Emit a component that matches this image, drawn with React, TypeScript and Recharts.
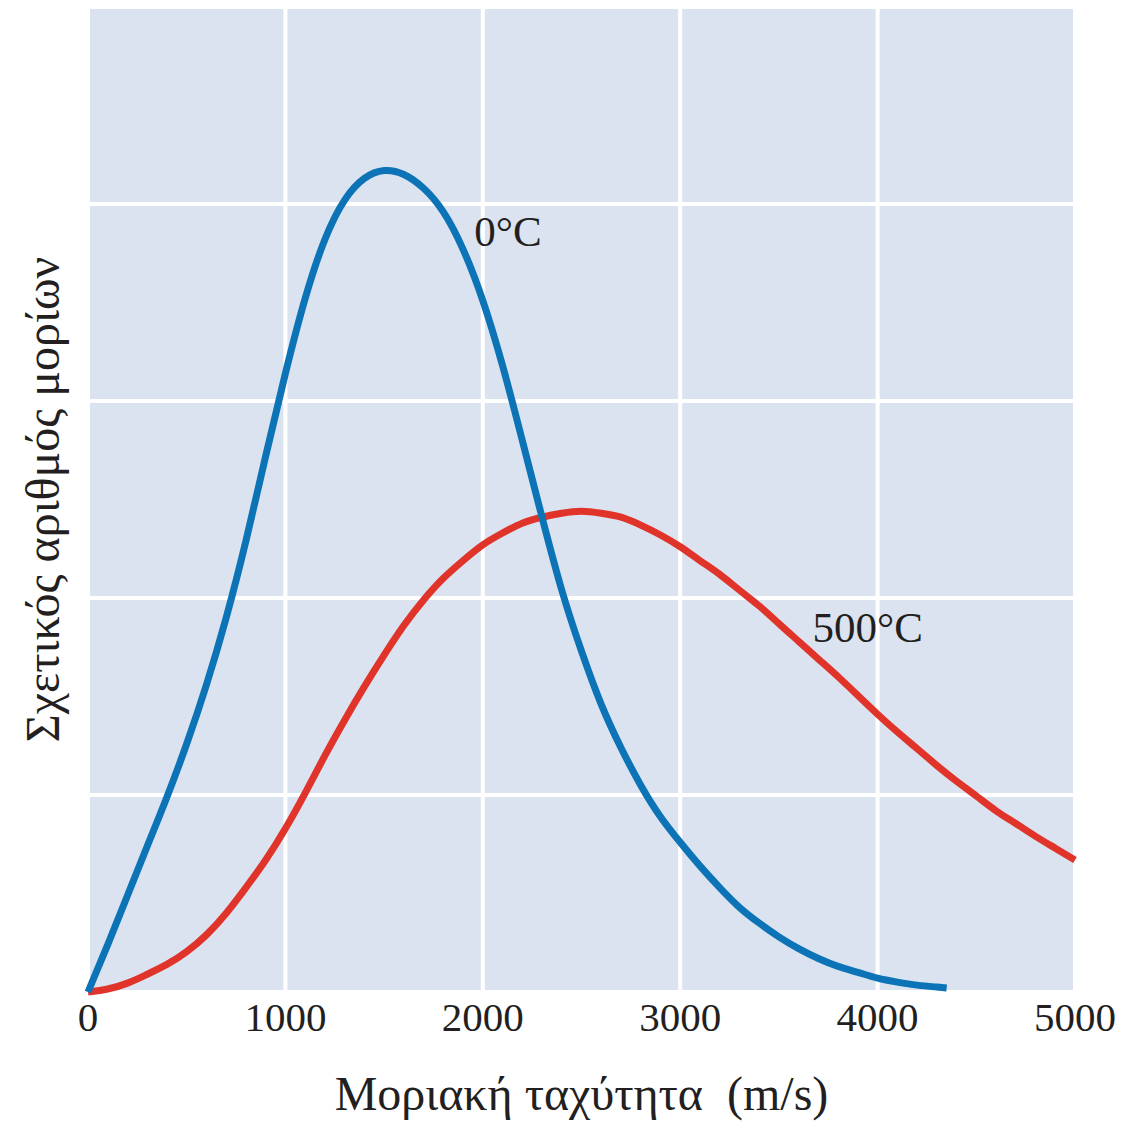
import {
  LineChart,
  Line,
  XAxis,
  YAxis,
  CartesianGrid,
  ReferenceDot,
} from "recharts";

// speeds in m/s (relative number of molecules)
const coldSpeed = [
  0, 100, 200, 300, 400, 500, 600, 700, 800, 900, 1000, 1100, 1200, 1300,
  1400, 1500, 1600, 1700, 1800, 1900, 2000, 2100, 2200, 2300, 2400, 2500,
  2600, 2700, 2800, 2900, 3000, 3100, 3200, 3300, 3400, 3500, 3600, 3700,
  3800, 3900, 4000, 4100, 4200, 4300, 4350,
];
const coldValue = [
  0, 0.24, 0.49, 0.74, 0.99, 1.26, 1.56, 1.9, 2.29, 2.72, 3.14, 3.52, 3.82,
  4.02, 4.13, 4.17, 4.15, 4.08, 3.96, 3.77, 3.51, 3.18, 2.8, 2.41, 2.04, 1.73,
  1.46, 1.24, 1.05, 0.89, 0.76, 0.64, 0.53, 0.43, 0.35, 0.28, 0.22, 0.17, 0.13,
  0.1, 0.07, 0.05, 0.035, 0.025, 0.02,
];

const hotSpeed = [
  0, 100, 200, 300, 400, 500, 600, 700, 800, 900, 1000, 1100, 1200, 1300,
  1400, 1500, 1600, 1700, 1800, 1900, 2000, 2100, 2200, 2300, 2400, 2500,
  2600, 2700, 2800, 2900, 3000, 3100, 3200, 3300, 3400, 3500, 3600, 3700,
  3800, 3900, 4000, 4100, 4200, 4300, 4400, 4500, 4600, 4700, 4800, 4900,
  5000,
];
const hotValue = [
  0, 0.015, 0.045, 0.09, 0.14, 0.205, 0.29, 0.4, 0.53, 0.67, 0.83, 1.01, 1.2,
  1.38, 1.55, 1.71, 1.86, 1.99, 2.1, 2.19, 2.27, 2.33, 2.38, 2.41, 2.43, 2.44,
  2.43, 2.41, 2.37, 2.32, 2.26, 2.19, 2.12, 2.04, 1.96, 1.87, 1.78, 1.69, 1.6,
  1.505, 1.41, 1.32, 1.235, 1.15, 1.07, 0.995, 0.92, 0.855, 0.79, 0.73, 0.67,
];

const xTicks = [0, 1000, 2000, 3000, 4000, 5000];
const yTicks = [0, 1, 2, 3, 4, 5];

const coldData = coldSpeed.map((s, i) => ({ speed: s, value: coldValue[i] }));
const hotData = hotSpeed.map((s, i) => ({ speed: s, value: hotValue[i] }));

const FONT = "'Liberation Serif', 'DejaVu Serif', serif";
const TEXT = "#231f20";

function CurveLabel({ viewBox, text }: any) {
  const x = viewBox?.cx ?? viewBox?.x;
  const y = viewBox?.cy ?? viewBox?.y;
  return (
    <text
      x={x}
      y={y}
      textAnchor="middle"
      dominantBaseline="central"
      fontFamily={FONT}
      fontSize={43}
      fill={TEXT}
    >
      {text}
    </text>
  );
}

export default function App() {
  return (
    <div style={{ position: "absolute", left: 0, top: 0, background: "#fff" }}>
      <LineChart
        width={1124}
        height={1128}
        margin={{ top: 7, right: 49, bottom: 0, left: 0 }}
      >
        <CartesianGrid
          fill="#dce3f0"
          stroke="#ffffff"
          strokeWidth={4}
          strokeOpacity={1}
          horizontalValues={yTicks}
          verticalValues={xTicks}
        />
        <XAxis
          type="number"
          dataKey="speed"
          domain={[0, 5000]}
          ticks={xTicks}
          height={136}
          axisLine={false}
          tickLine={false}
          tickMargin={4}
          tick={{ fontFamily: FONT, fontSize: 41, fill: TEXT }}
          label={{
            value: "Μοριακή ταχύτητα\u00a0 (m/s)",
            position: "insideBottom",
            offset: 18,
            style: { fontFamily: FONT, fontSize: 48, fill: TEXT },
          }}
        />
        <YAxis
          type="number"
          domain={[0, 5]}
          ticks={yTicks}
          width={88}
          axisLine={false}
          tickLine={false}
          tick={{ fontSize: 1, fill: "transparent" }}
          tickFormatter={() => ""}
          label={{
            value: "Σχετικός αριθμός μορίων",
            angle: -90,
            position: "center",
            dx: -2,
            style: { fontFamily: FONT, fontSize: 48, fill: TEXT, textAnchor: "middle" },
          }}
        />
        <Line
          data={hotData}
          dataKey="value"
          type="natural"
          stroke="#e0342a"
          strokeWidth={7}
          dot={false}
          activeDot={false}
          isAnimationActive={false}
        />
        <Line
          data={coldData}
          dataKey="value"
          type="natural"
          stroke="#0b73b6"
          strokeWidth={7}
          dot={false}
          activeDot={false}
          isAnimationActive={false}
        />
        <ReferenceDot
          x={2128}
          y={3.86}
          r={0}
          label={<CurveLabel text="0°C" />}
        />
        <ReferenceDot
          x={3950}
          y={1.85}
          r={0}
          label={<CurveLabel text="500°C" />}
        />
      </LineChart>
    </div>
  );
}
